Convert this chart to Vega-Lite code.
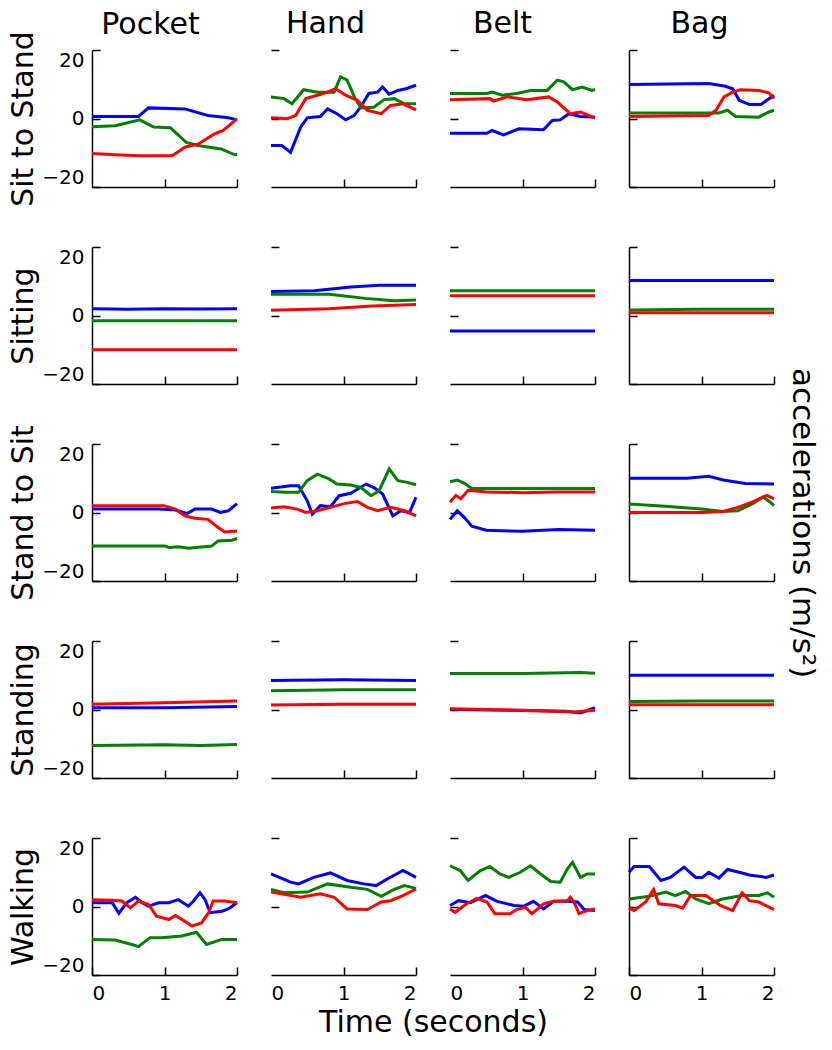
{
"$schema": "https://vega.github.io/schema/vega-lite/v6.json",
"padding": {"left": 8, "top": 9, "right": 6, "bottom": 5},
"datasets": {
"a1p1": [
{"s":"x","t":0,"v":0.6},{"s":"x","t":0.64,"v":0.6},{"s":"x","t":0.78,"v":3.1},{"s":"x","t":1.28,"v":2.8},{"s":"x","t":1.6,"v":0.9},{"s":"x","t":1.88,"v":0.2},{"s":"x","t":2,"v":-0.4},
{"s":"y","t":0,"v":-2.4},{"s":"y","t":0.32,"v":-2.1},{"s":"y","t":0.66,"v":-0.4},{"s":"y","t":0.85,"v":-2.5},{"s":"y","t":1.08,"v":-2.7},{"s":"y","t":1.3,"v":-7},{"s":"y","t":1.46,"v":-7.9},{"s":"y","t":1.78,"v":-8.9},{"s":"y","t":1.97,"v":-10.6},{"s":"y","t":2,"v":-10.5},
{"s":"z","t":0,"v":-10.2},{"s":"z","t":0.32,"v":-10.6},{"s":"z","t":0.64,"v":-10.9},{"s":"z","t":1.1,"v":-10.9},{"s":"z","t":1.17,"v":-10},{"s":"z","t":1.28,"v":-8.4},{"s":"z","t":1.46,"v":-7.5},{"s":"z","t":1.69,"v":-4.5},{"s":"z","t":1.81,"v":-3.5},{"s":"z","t":2,"v":-0.1}],
"a1p2": [
{"s":"x","t":0,"v":-7.9},{"s":"x","t":0.15,"v":-7.9},{"s":"x","t":0.27,"v":-9.9},{"s":"x","t":0.41,"v":-2.5},{"s":"x","t":0.5,"v":0.2},{"s":"x","t":0.68,"v":0.6},{"s":"x","t":0.78,"v":2.8},{"s":"x","t":0.91,"v":1.4},{"s":"x","t":1.03,"v":-0.4},{"s":"x","t":1.15,"v":0.9},{"s":"x","t":1.24,"v":3.5},{"s":"x","t":1.35,"v":7.3},{"s":"x","t":1.47,"v":7.7},{"s":"x","t":1.54,"v":9.2},{"s":"x","t":1.63,"v":7.1},{"s":"x","t":1.75,"v":8.2},{"s":"x","t":1.86,"v":8.7},{"s":"x","t":2,"v":9.7},
{"s":"y","t":0,"v":6.3},{"s":"y","t":0.18,"v":5.8},{"s":"y","t":0.29,"v":4.3},{"s":"y","t":0.45,"v":8.4},{"s":"y","t":0.64,"v":7.7},{"s":"y","t":0.87,"v":7.7},{"s":"y","t":0.96,"v":12.2},{"s":"y","t":1.05,"v":11.2},{"s":"y","t":1.15,"v":6.3},{"s":"y","t":1.24,"v":3.1},{"s":"y","t":1.42,"v":3.3},{"s":"y","t":1.56,"v":5.5},{"s":"y","t":1.7,"v":5.8},{"s":"y","t":1.84,"v":4.3},{"s":"y","t":2,"v":4.3},
{"s":"z","t":0,"v":0.2},{"s":"z","t":0.22,"v":-0.1},{"s":"z","t":0.34,"v":0.9},{"s":"z","t":0.48,"v":5.8},{"s":"z","t":0.64,"v":6.8},{"s":"z","t":0.78,"v":7.7},{"s":"z","t":0.89,"v":8.7},{"s":"z","t":1.03,"v":6.8},{"s":"z","t":1.19,"v":5.3},{"s":"z","t":1.33,"v":2.4},{"s":"z","t":1.52,"v":1.4},{"s":"z","t":1.65,"v":3.8},{"s":"z","t":1.82,"v":4.3},{"s":"z","t":2,"v":2.5}],
"a1p3": [
{"s":"x","t":0,"v":-4.3},{"s":"x","t":0.51,"v":-4.3},{"s":"x","t":0.58,"v":-3.5},{"s":"x","t":0.74,"v":-4.8},{"s":"x","t":0.95,"v":-3},{"s":"x","t":1.29,"v":-3.3},{"s":"x","t":1.41,"v":-0.6},{"s":"x","t":1.52,"v":-0.4},{"s":"x","t":1.64,"v":1.4},{"s":"x","t":1.8,"v":0.6},{"s":"x","t":2,"v":0.4},
{"s":"y","t":0,"v":7.3},{"s":"y","t":0.51,"v":7.3},{"s":"y","t":0.58,"v":7.7},{"s":"y","t":0.72,"v":6.8},{"s":"y","t":0.92,"v":7.3},{"s":"y","t":1.11,"v":8.2},{"s":"y","t":1.34,"v":8.2},{"s":"y","t":1.48,"v":11.2},{"s":"y","t":1.57,"v":10.7},{"s":"y","t":1.69,"v":8.4},{"s":"y","t":1.82,"v":9.2},{"s":"y","t":1.96,"v":8.2},{"s":"y","t":2,"v":8.5},
{"s":"z","t":0,"v":5.5},{"s":"z","t":0.55,"v":5.8},{"s":"z","t":0.6,"v":5.1},{"s":"z","t":0.79,"v":6.3},{"s":"z","t":1.06,"v":5.5},{"s":"z","t":1.36,"v":6.3},{"s":"z","t":1.48,"v":4.8},{"s":"z","t":1.66,"v":1.4},{"s":"z","t":1.8,"v":1.9},{"s":"z","t":2,"v":0.2}],
"a1p4": [
{"s":"x","t":0,"v":9.9},{"s":"x","t":1.1,"v":10.2},{"s":"x","t":1.33,"v":9.4},{"s":"x","t":1.43,"v":8.7},{"s":"x","t":1.52,"v":5.3},{"s":"x","t":1.66,"v":4.1},{"s":"x","t":1.82,"v":4.1},{"s":"x","t":2,"v":6.8},
{"s":"y","t":0,"v":1.6},{"s":"y","t":1.24,"v":1.6},{"s":"y","t":1.36,"v":2.4},{"s":"y","t":1.47,"v":0.6},{"s":"y","t":1.79,"v":0.4},{"s":"y","t":1.93,"v":1.9},{"s":"y","t":2,"v":2.4},
{"s":"z","t":0,"v":0.6},{"s":"z","t":1.1,"v":0.9},{"s":"z","t":1.2,"v":2.4},{"s":"z","t":1.31,"v":6.3},{"s":"z","t":1.43,"v":7.7},{"s":"z","t":1.54,"v":8.4},{"s":"z","t":1.79,"v":8.2},{"s":"z","t":1.93,"v":7.5},{"s":"z","t":2,"v":5.8}],
"a2p1": [
{"s":"x","t":0,"v":2},{"s":"x","t":0.5,"v":1.8},{"s":"x","t":1,"v":2},{"s":"x","t":1.5,"v":1.9},{"s":"x","t":2,"v":2},
{"s":"y","t":0,"v":-1.5},{"s":"y","t":1,"v":-1.5},{"s":"y","t":2,"v":-1.5},
{"s":"z","t":0,"v":-10},{"s":"z","t":1,"v":-10},{"s":"z","t":2,"v":-10}],
"a2p2": [
{"s":"x","t":0,"v":7},{"s":"x","t":0.6,"v":7.2},{"s":"x","t":1.1,"v":8.3},{"s":"x","t":1.5,"v":8.8},{"s":"x","t":2,"v":8.8},
{"s":"y","t":0,"v":6.2},{"s":"y","t":0.8,"v":6.2},{"s":"y","t":1.3,"v":5},{"s":"y","t":1.7,"v":4.3},{"s":"y","t":2,"v":4.5},
{"s":"z","t":0,"v":1.5},{"s":"z","t":0.8,"v":2},{"s":"z","t":1.4,"v":2.8},{"s":"z","t":2,"v":3.2}],
"a2p3": [
{"s":"x","t":0,"v":-4.5},{"s":"x","t":1,"v":-4.5},{"s":"x","t":2,"v":-4.5},
{"s":"y","t":0,"v":7.2},{"s":"y","t":1,"v":7.2},{"s":"y","t":2,"v":7.2},
{"s":"z","t":0,"v":5.8},{"s":"z","t":1,"v":5.8},{"s":"z","t":2,"v":5.8}],
"a2p4": [
{"s":"x","t":0,"v":10.2},{"s":"x","t":1,"v":10.2},{"s":"x","t":2,"v":10.2},
{"s":"y","t":0,"v":1.6},{"s":"y","t":1,"v":1.8},{"s":"y","t":2,"v":1.8},
{"s":"z","t":0,"v":0.8},{"s":"z","t":1,"v":0.8},{"s":"z","t":2,"v":0.8}],
"a3p1": [
{"s":"x","t":0,"v":1},{"s":"x","t":0.92,"v":1},{"s":"x","t":1.15,"v":0.7},{"s":"x","t":1.31,"v":-0.3},{"s":"x","t":1.42,"v":1},{"s":"x","t":1.65,"v":1},{"s":"x","t":1.77,"v":0},{"s":"x","t":1.88,"v":0.5},{"s":"x","t":2,"v":2.6},
{"s":"y","t":0,"v":-9.8},{"s":"y","t":1,"v":-9.8},{"s":"y","t":1.07,"v":-10.2},{"s":"y","t":1.19,"v":-10},{"s":"y","t":1.33,"v":-10.4},{"s":"y","t":1.65,"v":-9.8},{"s":"y","t":1.74,"v":-8.3},{"s":"y","t":1.93,"v":-8.1},{"s":"y","t":2,"v":-7.6},
{"s":"z","t":0,"v":2},{"s":"z","t":0.99,"v":2},{"s":"z","t":1.15,"v":1},{"s":"z","t":1.28,"v":-1},{"s":"z","t":1.42,"v":-1.7},{"s":"z","t":1.6,"v":-2},{"s":"z","t":1.74,"v":-4.4},{"s":"z","t":1.83,"v":-5.7},{"s":"z","t":2,"v":-5.4}],
"a3p2": [
{"s":"x","t":0,"v":7.1},{"s":"x","t":0.27,"v":7.8},{"s":"x","t":0.38,"v":7.8},{"s":"x","t":0.5,"v":3.4},{"s":"x","t":0.57,"v":-0.5},{"s":"x","t":0.68,"v":2},{"s":"x","t":0.82,"v":1.7},{"s":"x","t":0.94,"v":4.9},{"s":"x","t":1.1,"v":5.6},{"s":"x","t":1.31,"v":8.3},{"s":"x","t":1.42,"v":7.3},{"s":"x","t":1.54,"v":5.4},{"s":"x","t":1.68,"v":-1},{"s":"x","t":1.79,"v":0.5},{"s":"x","t":1.91,"v":0},{"s":"x","t":2,"v":4.4},
{"s":"y","t":0,"v":6.1},{"s":"y","t":0.18,"v":5.9},{"s":"y","t":0.38,"v":5.9},{"s":"y","t":0.5,"v":9.3},{"s":"y","t":0.64,"v":11.2},{"s":"y","t":0.8,"v":9.8},{"s":"y","t":0.91,"v":8.3},{"s":"y","t":1.1,"v":8},{"s":"y","t":1.24,"v":7.3},{"s":"y","t":1.38,"v":4.9},{"s":"y","t":1.49,"v":6.3},{"s":"y","t":1.63,"v":12.7},{"s":"y","t":1.75,"v":9.3},{"s":"y","t":1.88,"v":8.8},{"s":"y","t":2,"v":8.1},
{"s":"z","t":0,"v":1.3},{"s":"z","t":0.18,"v":1.7},{"s":"z","t":0.36,"v":1},{"s":"z","t":0.48,"v":0},{"s":"z","t":0.64,"v":0.5},{"s":"z","t":0.82,"v":1.5},{"s":"z","t":1.01,"v":2.6},{"s":"z","t":1.19,"v":3.2},{"s":"z","t":1.33,"v":1.5},{"s":"z","t":1.47,"v":0.5},{"s":"z","t":1.65,"v":1.5},{"s":"z","t":1.84,"v":0.5},{"s":"z","t":2,"v":-1}],
"a3p3": [
{"s":"x","t":0,"v":-2},{"s":"x","t":0.1,"v":0.5},{"s":"x","t":0.2,"v":-1.5},{"s":"x","t":0.3,"v":-4},{"s":"x","t":0.5,"v":-5.2},{"s":"x","t":1,"v":-5.5},{"s":"x","t":1.5,"v":-5},{"s":"x","t":2,"v":-5.2},
{"s":"y","t":0,"v":9},{"s":"y","t":0.1,"v":9.5},{"s":"y","t":0.2,"v":8.5},{"s":"y","t":0.3,"v":7},{"s":"y","t":0.6,"v":7},{"s":"y","t":1.2,"v":7},{"s":"y","t":2,"v":7},
{"s":"z","t":0,"v":3},{"s":"z","t":0.08,"v":5},{"s":"z","t":0.15,"v":4},{"s":"z","t":0.25,"v":6.5},{"s":"z","t":0.5,"v":6},{"s":"z","t":1,"v":5.8},{"s":"z","t":1.5,"v":6},{"s":"z","t":2,"v":6}],
"a3p4": [
{"s":"x","t":0,"v":10},{"s":"x","t":0.8,"v":10},{"s":"x","t":1.1,"v":10.6},{"s":"x","t":1.3,"v":9.5},{"s":"x","t":1.6,"v":8.5},{"s":"x","t":2,"v":8.3},
{"s":"y","t":0,"v":2.5},{"s":"y","t":0.5,"v":1.8},{"s":"y","t":1,"v":1},{"s":"y","t":1.3,"v":0.3},{"s":"y","t":1.5,"v":0.5},{"s":"y","t":1.7,"v":2.5},{"s":"y","t":1.85,"v":4.5},{"s":"y","t":1.95,"v":3},{"s":"y","t":2,"v":2},
{"s":"z","t":0,"v":0},{"s":"z","t":1,"v":0},{"s":"z","t":1.3,"v":0.3},{"s":"z","t":1.5,"v":1.5},{"s":"z","t":1.7,"v":3},{"s":"z","t":1.9,"v":5},{"s":"z","t":2,"v":4}],
"a4p1": [
{"s":"x","t":0,"v":0.5},{"s":"x","t":1,"v":0.5},{"s":"x","t":2,"v":0.9},
{"s":"y","t":0,"v":-10.5},{"s":"y","t":1,"v":-10.3},{"s":"y","t":1.5,"v":-10.5},{"s":"y","t":2,"v":-10.2},
{"s":"z","t":0,"v":1.5},{"s":"z","t":1,"v":2},{"s":"z","t":2,"v":2.5}],
"a4p2": [
{"s":"x","t":0,"v":8.5},{"s":"x","t":1,"v":8.7},{"s":"x","t":2,"v":8.5},
{"s":"y","t":0,"v":5.5},{"s":"y","t":1,"v":5.8},{"s":"y","t":2,"v":5.8},
{"s":"z","t":0,"v":1.3},{"s":"z","t":1,"v":1.5},{"s":"z","t":2,"v":1.5}],
"a4p3": [
{"s":"x","t":0,"v":0},{"s":"x","t":1,"v":-0.3},{"s":"x","t":1.6,"v":-0.5},{"s":"x","t":1.8,"v":-1},{"s":"x","t":2,"v":0.5},
{"s":"y","t":0,"v":10.5},{"s":"y","t":1,"v":10.5},{"s":"y","t":1.8,"v":10.8},{"s":"y","t":2,"v":10.6},
{"s":"z","t":0,"v":0.2},{"s":"z","t":1,"v":-0.2},{"s":"z","t":1.7,"v":-0.7},{"s":"z","t":2,"v":-0.2}],
"a4p4": [
{"s":"x","t":0,"v":10},{"s":"x","t":2,"v":10},
{"s":"y","t":0,"v":2.3},{"s":"y","t":1,"v":2.5},{"s":"y","t":2,"v":2.5},
{"s":"z","t":0,"v":1.4},{"s":"z","t":2,"v":1.4}],
"a5p1": [
{"s":"x","t":0,"v":1.1},{"s":"x","t":0.28,"v":1.1},{"s":"x","t":0.37,"v":-2},{"s":"x","t":0.48,"v":1.1},{"s":"x","t":0.6,"v":2.7},{"s":"x","t":0.69,"v":1.1},{"s":"x","t":0.78,"v":0.1},{"s":"x","t":0.92,"v":1.1},{"s":"x","t":1.06,"v":1.1},{"s":"x","t":1.19,"v":2},{"s":"x","t":1.33,"v":0.1},{"s":"x","t":1.4,"v":1.6},{"s":"x","t":1.49,"v":4},{"s":"x","t":1.56,"v":2},{"s":"x","t":1.63,"v":-1.8},{"s":"x","t":1.79,"v":-1.4},{"s":"x","t":1.88,"v":-0.7},{"s":"x","t":2,"v":1.1},
{"s":"y","t":0,"v":-9.6},{"s":"y","t":0.32,"v":-9.8},{"s":"y","t":0.55,"v":-11.1},{"s":"y","t":0.64,"v":-11.7},{"s":"y","t":0.8,"v":-9.1},{"s":"y","t":0.96,"v":-9.1},{"s":"y","t":1.24,"v":-8.6},{"s":"y","t":1.44,"v":-7.5},{"s":"y","t":1.58,"v":-11.1},{"s":"y","t":1.79,"v":-9.6},{"s":"y","t":2,"v":-9.6},
{"s":"z","t":0,"v":2},{"s":"z","t":0.28,"v":1.8},{"s":"z","t":0.41,"v":1.6},{"s":"z","t":0.53,"v":-0.4},{"s":"z","t":0.64,"v":1.6},{"s":"z","t":0.78,"v":0.6},{"s":"z","t":0.89,"v":-2.8},{"s":"z","t":1.06,"v":-3.8},{"s":"z","t":1.15,"v":-2.6},{"s":"z","t":1.28,"v":-4.3},{"s":"z","t":1.38,"v":-5.7},{"s":"z","t":1.51,"v":-4.8},{"s":"z","t":1.61,"v":-1.8},{"s":"z","t":1.67,"v":1.6},{"s":"z","t":1.83,"v":1.6},{"s":"z","t":2,"v":1.1}],
"a5p2": [
{"s":"x","t":0,"v":9.5},{"s":"x","t":0.27,"v":7.1},{"s":"x","t":0.38,"v":6.6},{"s":"x","t":0.59,"v":8.5},{"s":"x","t":0.82,"v":9.8},{"s":"x","t":1.05,"v":7.6},{"s":"x","t":1.28,"v":6.6},{"s":"x","t":1.45,"v":6.1},{"s":"x","t":1.61,"v":8.1},{"s":"x","t":1.82,"v":10.5},{"s":"x","t":2,"v":8.5},
{"s":"y","t":0,"v":5},{"s":"y","t":0.18,"v":4},{"s":"y","t":0.5,"v":4.2},{"s":"y","t":0.78,"v":6.6},{"s":"y","t":1.1,"v":5.6},{"s":"y","t":1.33,"v":5},{"s":"y","t":1.52,"v":3},{"s":"y","t":1.7,"v":5},{"s":"y","t":1.84,"v":6.1},{"s":"y","t":2,"v":5.3},
{"s":"z","t":0,"v":4.2},{"s":"z","t":0.41,"v":2.7},{"s":"z","t":0.68,"v":3.7},{"s":"z","t":0.87,"v":2.7},{"s":"z","t":1.05,"v":-0.7},{"s":"z","t":1.33,"v":-0.9},{"s":"z","t":1.52,"v":1.3},{"s":"z","t":1.65,"v":1.7},{"s":"z","t":1.82,"v":3.2},{"s":"z","t":2,"v":5.1}],
"a5p3": [
{"s":"x","t":0,"v":0.3},{"s":"x","t":0.12,"v":1.7},{"s":"x","t":0.28,"v":1.1},{"s":"x","t":0.49,"v":3.2},{"s":"x","t":0.65,"v":1.5},{"s":"x","t":0.88,"v":0.3},{"s":"x","t":1.02,"v":0.1},{"s":"x","t":1.15,"v":1.5},{"s":"x","t":1.29,"v":-0.7},{"s":"x","t":1.43,"v":1.5},{"s":"x","t":1.62,"v":1.5},{"s":"x","t":1.76,"v":1.3},{"s":"x","t":1.85,"v":-0.9},{"s":"x","t":2,"v":-1.2},
{"s":"y","t":0,"v":11.9},{"s":"y","t":0.14,"v":10.5},{"s":"y","t":0.25,"v":7.6},{"s":"y","t":0.42,"v":10.5},{"s":"y","t":0.55,"v":11.7},{"s":"y","t":0.69,"v":9.5},{"s":"y","t":0.81,"v":8.5},{"s":"y","t":0.97,"v":10},{"s":"y","t":1.11,"v":11.9},{"s":"y","t":1.25,"v":9.5},{"s":"y","t":1.39,"v":7.3},{"s":"y","t":1.52,"v":7.1},{"s":"y","t":1.62,"v":11},{"s":"y","t":1.69,"v":12.9},{"s":"y","t":1.8,"v":8.5},{"s":"y","t":1.89,"v":9.5},{"s":"y","t":2,"v":9.5},
{"s":"z","t":0,"v":-0.7},{"s":"z","t":0.07,"v":-1.7},{"s":"z","t":0.23,"v":0.8},{"s":"z","t":0.37,"v":2.4},{"s":"z","t":0.51,"v":1.3},{"s":"z","t":0.62,"v":-2.1},{"s":"z","t":0.83,"v":-2.1},{"s":"z","t":0.92,"v":-0.9},{"s":"z","t":1.04,"v":-0.2},{"s":"z","t":1.13,"v":-2.1},{"s":"z","t":1.29,"v":0.8},{"s":"z","t":1.43,"v":1.5},{"s":"z","t":1.62,"v":1.7},{"s":"z","t":1.66,"v":2.7},{"s":"z","t":1.71,"v":1.3},{"s":"z","t":1.78,"v":-2.1},{"s":"z","t":1.89,"v":-1.2},{"s":"z","t":2,"v":-0.7}],
"a5p4": [
{"s":"x","t":0,"v":10},{"s":"x","t":0.07,"v":11.7},{"s":"x","t":0.28,"v":11.7},{"s":"x","t":0.44,"v":7.6},{"s":"x","t":0.57,"v":8.5},{"s":"x","t":0.76,"v":11.5},{"s":"x","t":0.92,"v":8.5},{"s":"x","t":1.01,"v":8.5},{"s":"x","t":1.1,"v":10},{"s":"x","t":1.24,"v":8.3},{"s":"x","t":1.36,"v":10.8},{"s":"x","t":1.52,"v":10},{"s":"x","t":1.66,"v":9.2},{"s":"x","t":1.89,"v":8.5},{"s":"x","t":2,"v":9.2},
{"s":"y","t":0,"v":2.2},{"s":"y","t":0.28,"v":3},{"s":"y","t":0.51,"v":4.2},{"s":"y","t":0.64,"v":3.2},{"s":"y","t":0.78,"v":4.4},{"s":"y","t":0.92,"v":2.2},{"s":"y","t":1.1,"v":0.8},{"s":"y","t":1.29,"v":2.2},{"s":"y","t":1.56,"v":3.2},{"s":"y","t":1.79,"v":3.2},{"s":"y","t":1.91,"v":4},{"s":"y","t":2,"v":2.7},
{"s":"z","t":0,"v":-0.5},{"s":"z","t":0.07,"v":-1.2},{"s":"z","t":0.23,"v":1.3},{"s":"z","t":0.34,"v":5},{"s":"z","t":0.41,"v":0.8},{"s":"z","t":0.64,"v":0.3},{"s":"z","t":0.74,"v":-0.5},{"s":"z","t":0.85,"v":3.2},{"s":"z","t":1.06,"v":3.2},{"s":"z","t":1.26,"v":0.3},{"s":"z","t":1.43,"v":-1.2},{"s":"z","t":1.56,"v":4},{"s":"z","t":1.66,"v":1.7},{"s":"z","t":1.79,"v":1.3},{"s":"z","t":2,"v":-0.9}]
},
"title": {"text": "accelerations (m/s²)", "orient": "right", "anchor": "middle", "fontSize": 31, "offset": 6},
"bounds": "flush",
"columns": 4,
"spacing": {"row": 60, "column": 34},
"concat": [
{"width":145,"height":137,"title":{"text":"Pocket","dy":19,"dx":-14},"data":{"name":"a1p1"},"mark":"line","encoding":{"x":{"field":"t","type":"quantitative","scale":{"domain":[0,2]},"axis":{"title":null,"values":[1,2]}},"y":{"field":"v","type":"quantitative","scale":{"domain":[-20,20]},"axis":{"title":"Sit to Stand","labels":true,"values":[-20,0,20]}},"color":{"field":"s","type":"nominal"}}},
{"width":145,"height":137,"title":{"text":"Hand","dx":-18},"data":{"name":"a1p2"},"mark":"line","encoding":{"x":{"field":"t","type":"quantitative","scale":{"domain":[0,2]},"axis":{"title":null,"values":[1,2]}},"y":{"field":"v","type":"quantitative","scale":{"domain":[-20,20]},"axis":{"title":null,"domain":false,"values":[0,20]}},"color":{"field":"s","type":"nominal"}}},
{"width":145,"height":137,"title":{"text":"Belt","dx":-20},"data":{"name":"a1p3"},"mark":"line","encoding":{"x":{"field":"t","type":"quantitative","scale":{"domain":[0,2]},"axis":{"title":null,"values":[1,2]}},"y":{"field":"v","type":"quantitative","scale":{"domain":[-20,20]},"axis":{"title":null,"domain":false,"values":[0,20]}},"color":{"field":"s","type":"nominal"}}},
{"width":145,"height":137,"title":{"text":"Bag","dx":-2},"data":{"name":"a1p4"},"mark":"line","encoding":{"x":{"field":"t","type":"quantitative","scale":{"domain":[0,2]},"axis":{"title":null,"values":[1,2]}},"y":{"field":"v","type":"quantitative","scale":{"domain":[-20,20]},"axis":{"title":null,"values":[-20,0,20]}},"color":{"field":"s","type":"nominal"}}},
{"width":145,"height":137,"data":{"name":"a2p1"},"mark":"line","encoding":{"x":{"field":"t","type":"quantitative","scale":{"domain":[0,2]},"axis":{"title":null,"values":[1,2]}},"y":{"field":"v","type":"quantitative","scale":{"domain":[-20,20]},"axis":{"title":"Sitting","labels":true,"values":[-20,0,20]}},"color":{"field":"s","type":"nominal"}}},
{"width":145,"height":137,"data":{"name":"a2p2"},"mark":"line","encoding":{"x":{"field":"t","type":"quantitative","scale":{"domain":[0,2]},"axis":{"title":null,"values":[1,2]}},"y":{"field":"v","type":"quantitative","scale":{"domain":[-20,20]},"axis":{"title":null,"domain":false,"values":[0,20]}},"color":{"field":"s","type":"nominal"}}},
{"width":145,"height":137,"data":{"name":"a2p3"},"mark":"line","encoding":{"x":{"field":"t","type":"quantitative","scale":{"domain":[0,2]},"axis":{"title":null,"values":[1,2]}},"y":{"field":"v","type":"quantitative","scale":{"domain":[-20,20]},"axis":{"title":null,"domain":false,"values":[0,20]}},"color":{"field":"s","type":"nominal"}}},
{"width":145,"height":137,"data":{"name":"a2p4"},"mark":"line","encoding":{"x":{"field":"t","type":"quantitative","scale":{"domain":[0,2]},"axis":{"title":null,"values":[1,2]}},"y":{"field":"v","type":"quantitative","scale":{"domain":[-20,20]},"axis":{"title":null,"values":[-20,0,20]}},"color":{"field":"s","type":"nominal"}}},
{"width":145,"height":137,"data":{"name":"a3p1"},"mark":"line","encoding":{"x":{"field":"t","type":"quantitative","scale":{"domain":[0,2]},"axis":{"title":null,"values":[1,2]}},"y":{"field":"v","type":"quantitative","scale":{"domain":[-20,20]},"axis":{"title":"Stand to Sit","labels":true,"values":[-20,0,20]}},"color":{"field":"s","type":"nominal"}}},
{"width":145,"height":137,"data":{"name":"a3p2"},"mark":"line","encoding":{"x":{"field":"t","type":"quantitative","scale":{"domain":[0,2]},"axis":{"title":null,"values":[1,2]}},"y":{"field":"v","type":"quantitative","scale":{"domain":[-20,20]},"axis":{"title":null,"domain":false,"values":[0,20]}},"color":{"field":"s","type":"nominal"}}},
{"width":145,"height":137,"data":{"name":"a3p3"},"mark":"line","encoding":{"x":{"field":"t","type":"quantitative","scale":{"domain":[0,2]},"axis":{"title":null,"values":[1,2]}},"y":{"field":"v","type":"quantitative","scale":{"domain":[-20,20]},"axis":{"title":null,"domain":false,"values":[0,20]}},"color":{"field":"s","type":"nominal"}}},
{"width":145,"height":137,"data":{"name":"a3p4"},"mark":"line","encoding":{"x":{"field":"t","type":"quantitative","scale":{"domain":[0,2]},"axis":{"title":null,"values":[1,2]}},"y":{"field":"v","type":"quantitative","scale":{"domain":[-20,20]},"axis":{"title":null,"values":[-20,0,20]}},"color":{"field":"s","type":"nominal"}}},
{"width":145,"height":137,"data":{"name":"a4p1"},"mark":"line","encoding":{"x":{"field":"t","type":"quantitative","scale":{"domain":[0,2]},"axis":{"title":null,"values":[1,2]}},"y":{"field":"v","type":"quantitative","scale":{"domain":[-20,20]},"axis":{"title":"Standing","labels":true,"values":[-20,0,20]}},"color":{"field":"s","type":"nominal"}}},
{"width":145,"height":137,"data":{"name":"a4p2"},"mark":"line","encoding":{"x":{"field":"t","type":"quantitative","scale":{"domain":[0,2]},"axis":{"title":null,"values":[1,2]}},"y":{"field":"v","type":"quantitative","scale":{"domain":[-20,20]},"axis":{"title":null,"domain":false,"values":[0,20]}},"color":{"field":"s","type":"nominal"}}},
{"width":145,"height":137,"data":{"name":"a4p3"},"mark":"line","encoding":{"x":{"field":"t","type":"quantitative","scale":{"domain":[0,2]},"axis":{"title":null,"values":[1,2]}},"y":{"field":"v","type":"quantitative","scale":{"domain":[-20,20]},"axis":{"title":null,"domain":false,"values":[0,20]}},"color":{"field":"s","type":"nominal"}}},
{"width":145,"height":137,"data":{"name":"a4p4"},"mark":"line","encoding":{"x":{"field":"t","type":"quantitative","scale":{"domain":[0,2]},"axis":{"title":null,"values":[1,2]}},"y":{"field":"v","type":"quantitative","scale":{"domain":[-20,20]},"axis":{"title":null,"values":[-20,0,20]}},"color":{"field":"s","type":"nominal"}}},
{"width":145,"height":137,"data":{"name":"a5p1"},"mark":"line","encoding":{"x":{"field":"t","type":"quantitative","scale":{"domain":[0,2]},"axis":{"title":null,"labels":true,"labelOverlap":false,"labelBound":false,"values":[0,1,2],"labelExpr":"toString(datum.value)"}},"y":{"field":"v","type":"quantitative","scale":{"domain":[-20,20]},"axis":{"title":"Walking","labels":true,"values":[-20,0,20]}},"color":{"field":"s","type":"nominal"}}},
{"width":145,"height":137,"data":{"name":"a5p2"},"mark":"line","encoding":{"x":{"field":"t","type":"quantitative","scale":{"domain":[0,2]},"axis":{"title":"Time (seconds)","titleX":162,"titleFontSize":30,"titlePadding":4,"labels":true,"labelOverlap":false,"labelBound":false,"values":[0,1,2],"labelExpr":"toString(datum.value)","tickOpacity":{"condition":{"test":"datum.value === 0","value":0},"value":1}}},"y":{"field":"v","type":"quantitative","scale":{"domain":[-20,20]},"axis":{"title":null,"domain":false,"values":[0,20]}},"color":{"field":"s","type":"nominal"}}},
{"width":145,"height":137,"data":{"name":"a5p3"},"mark":"line","encoding":{"x":{"field":"t","type":"quantitative","scale":{"domain":[0,2]},"axis":{"title":null,"labels":true,"labelOverlap":false,"labelBound":false,"values":[0,1,2],"labelExpr":"toString(datum.value)","tickOpacity":{"condition":{"test":"datum.value === 0","value":0},"value":1}}},"y":{"field":"v","type":"quantitative","scale":{"domain":[-20,20]},"axis":{"title":null,"domain":false,"values":[0,20]}},"color":{"field":"s","type":"nominal"}}},
{"width":145,"height":137,"data":{"name":"a5p4"},"mark":"line","encoding":{"x":{"field":"t","type":"quantitative","scale":{"domain":[0,2]},"axis":{"title":null,"labels":true,"labelOverlap":false,"labelBound":false,"values":[0,1,2],"labelExpr":"toString(datum.value)"}},"y":{"field":"v","type":"quantitative","scale":{"domain":[-20,20]},"axis":{"title":null,"values":[-20,0,20]}},"color":{"field":"s","type":"nominal"}}}
],
"resolve": {"scale": {"color": "shared"}},
"config": {
 "font": "DejaVu Sans",
 "view": {"stroke": null},
 "range": {"category": ["#0000ff", "#008000", "#ff0000"]},
 "legend": {"disable": true},
 "line": {"strokeWidth": 3},
 "title": {"fontSize": 30, "fontWeight": "normal", "color": "#000000", "font": "DejaVu Sans", "offset": 10},
 "axis": {"domainColor": "#000000", "tickColor": "#000000", "domainWidth": 1.5, "tickWidth": 1.5, "tickSize": -8, "labelColor": "#000000", "labelFontSize": 20, "labelFont": "DejaVu Sans", "grid": false, "titleFontSize": 30, "titleFont": "DejaVu Sans", "titleFontWeight": "normal", "titleColor": "#000000", "labelFlush": true, "labelPadding": 16, "labelOverlap": false},
 "axisX": {"labels": false},
 "axisY": {"labels": false, "titlePadding": 3}
}
}
